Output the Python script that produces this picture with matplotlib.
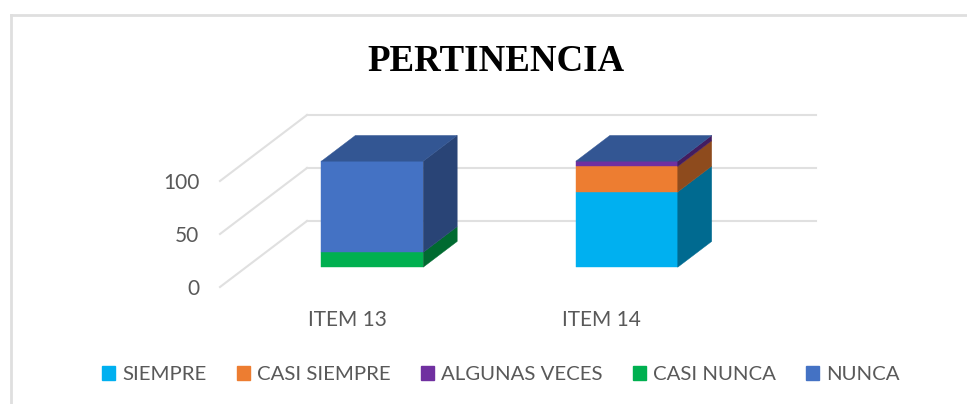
import matplotlib
matplotlib.use("Agg")
import matplotlib.pyplot as plt
from matplotlib.colors import to_rgb
from matplotlib.lines import Line2D
from matplotlib.patches import Patch
import numpy as np

items = ["ITEM 13", "ITEM 14"]
series = ["SIEMPRE", "CASI SIEMPRE", "ALGUNAS VECES", "CASI NUNCA", "NUNCA"]
siempre = [0, 71]
casi_siempre = [0, 24]
algunas_veces = [0, 5]
casi_nunca = [14, 0]
nunca = [86, 0]
values = [siempre, casi_siempre, algunas_veces, casi_nunca, nunca]
colors = ["#00B0F0", "#ED7D31", "#7030A0", "#00B050", "#4472C4"]
yticks = [0, 50, 100]

W, H = 967, 404
# oblique depth of the floor, in data units
DX, DY = 0.342, 62.3
BAR_W = 0.40
BAR_SHIFT = -0.004
D0, D1 = 0.30, 0.69


def shade(color, k):
    return tuple(c * k for c in to_rgb(color))


def proj(x, y, d):
    return x + d * DX, y + d * DY


def poly(ax, pts, color, z):
    xs, ys = zip(*pts)
    ax.fill(xs, ys, color=color, lw=0.3, zorder=z, clip_on=False)


plt.rcParams["font.family"] = ["Lato", "DejaVu Sans"]
fig = plt.figure(figsize=(W / 100, H / 100), dpi=100)
ax = fig.add_axes([220 / W, 1 - 287 / H, 509 / W, 106 / H])
ax.set_xlim(-0.5, 1.5)
ax.set_ylim(0, 100)
for s in ax.spines.values():
    s.set_visible(False)
ax.set_xticks(range(len(items)), items)
ax.set_yticks(yticks)
ax.tick_params(length=0, labelsize=15, labelcolor="#595959")
ax.tick_params(axis="x", pad=16.5)
ax.tick_params(axis="y", pad=15)

# walls
grid = "#e0e0e0"
for t in yticks:
    x0, y0 = proj(-0.5, t, 1)
    ax.plot([-0.5, x0], [t, y0], color=grid, lw=1.5, clip_on=False, zorder=1)
    ax.plot([x0, 1.5 + DX], [y0, y0], color=grid, lw=1.5, clip_on=False, zorder=1)

# stacked bars
for i in range(len(items)):
    left = i + BAR_SHIFT - BAR_W / 2
    right = i + BAR_SHIFT + BAR_W / 2
    base = 0
    for vals, c in zip(values, colors):
        v = vals[i]
        if v > 0:
            poly(ax, [proj(left, base, D0), proj(right, base, D0),
                      proj(right, base + v, D0), proj(left, base + v, D0)], c, 3)
            poly(ax, [proj(right, base, D0), proj(right, base, D1),
                      proj(right, base + v, D1), proj(right, base + v, D0)], shade(c, 0.6), 3)
        base += v
    poly(ax, [proj(left, base, D0), proj(right, base, D0),
              proj(right, base, D1), proj(left, base, D1)], shade(colors[-1], 0.75), 3)

handles = [Patch(color=c, label=s) for s, c in zip(series, colors)]
fig.legend(handles=handles, loc="center", bbox_to_anchor=(501 / W, 1 - 374.5 / H), ncol=5,
           frameon=False, fontsize=14.7, labelcolor="#595959", handlelength=0.65,
           handleheight=0.65, handletextpad=0.35, columnspacing=1.47)

fig.text(495.5 / W, 1 - 61.5 / H, "PERTINENCIA", family=["Liberation Serif"], weight="bold",
         fontsize=26.6, ha="center", va="center", color="black")

# chart frame, top and left only
fig.add_artist(Line2D([11 / W, 11 / W], [0, 1 - 15 / H], color="#dfdfdf", lw=2))
fig.add_artist(Line2D([11 / W, 1], [1 - 15 / H, 1 - 15 / H], color="#dfdfdf", lw=2))

fig.savefig("out.png", dpi=100)
plt.close(fig)
